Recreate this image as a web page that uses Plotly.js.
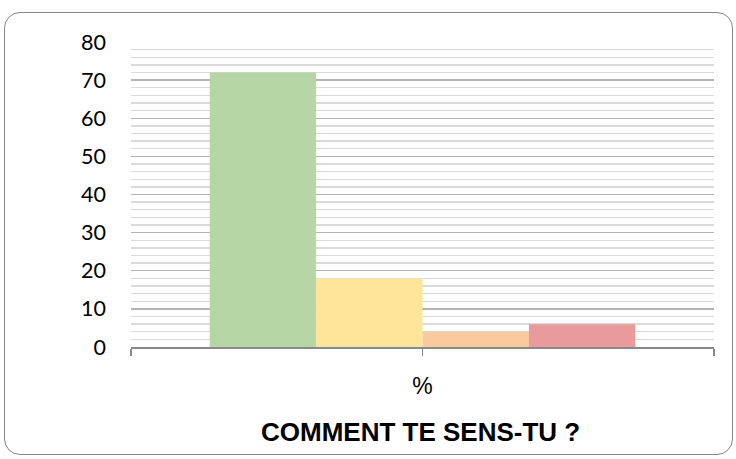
<!DOCTYPE html>
<html>
<head>
<meta charset="utf-8">
<script src="https://cdn.plot.ly/plotly-3.0.1.min.js"></script>
<style>
  html, body { margin: 0; padding: 0; background: #fff; }
  #wrap { position: relative; width: 736px; height: 459px; }
  #chart { position: absolute; left: 0; top: 0; width: 736px; height: 459px; }
  #frame { position: absolute; left: 4px; top: 12px; width: 727px; height: 441px;
           border: 1.5px solid #878787; border-radius: 16px; pointer-events: none; }
</style>
</head>
<body>
<div id="wrap">
  <div id="chart"></div>
  <div id="frame"></div>
</div>
<script>
// Data
const categories = ['%'];
const seriesNames = ['Très bien', 'Bien', 'Moyen', 'Mal'];
const seriesValues = [[72], [18], [4], [6]];
const seriesColors = ['#b7d6a6', '#fee599', '#f8ca9d', '#e99a9a'];
const yTicks = [0, 10, 20, 30, 40, 50, 60, 70, 80];
const chartTitle = 'COMMENT TE SENS-TU ?';

const catIndex = categories.map((c, i) => i);

const traces = seriesNames.map((name, i) => ({
  type: 'bar',
  name: name,
  x: catIndex,
  y: seriesValues[i],
  marker: { color: seriesColors[i], line: { width: 0 } },
  hoverinfo: 'y'
}));

const layout = {
  width: 736,
  height: 459,
  margin: { l: 131, r: 22, t: 42, b: 112 },
  paper_bgcolor: '#ffffff',
  plot_bgcolor: '#ffffff',
  showlegend: false,
  barmode: 'group',
  bargap: 0.27,
  bargroupgap: 0,
  xaxis: {
    type: 'linear',
    range: [-0.5, 0.5],
    tickmode: 'array',
    tickvals: [-0.5, 0, 0.5],
    ticktext: ['', categories[0], ''],
    ticks: 'outside',
    ticklen: 7,
    tickwidth: 1.5,
    tickcolor: '#898989',
    showline: true,
    linecolor: '#898989',
    linewidth: 1.5,
    showgrid: false,
    zeroline: false,
    ticklabelstandoff: 11,
    tickfont: { family: 'Liberation Sans, Arial, sans-serif', size: 23, color: '#000' },
    fixedrange: true
  },
  yaxis: {
    range: [0, 80],
    tickmode: 'array',
    tickvals: yTicks,
    ticks: '',
    showline: false,
    zeroline: false,
    showgrid: true,
    gridcolor: '#b3b3b3',
    gridwidth: 1.3,
    minor: { dtick: 2, showgrid: true, gridcolor: '#dadada', gridwidth: 1.3 },
    ticklabelstandoff: 24,
    tickfont: { family: 'Lato, "Open Sans", sans-serif', size: 21.5, color: '#000' },
    fixedrange: true
  },
  annotations: [{
    text: '<b>' + chartTitle + '</b>',
    xref: 'paper', yref: 'paper',
    x: 0.497, y: -0.278,
    xanchor: 'center', yanchor: 'middle',
    showarrow: false,
    font: { family: 'Liberation Sans, Arial, sans-serif', size: 26, color: '#000' }
  }]
};

Plotly.newPlot('chart', traces, layout, { displayModeBar: false, staticPlot: true });
</script>
</body>
</html>
